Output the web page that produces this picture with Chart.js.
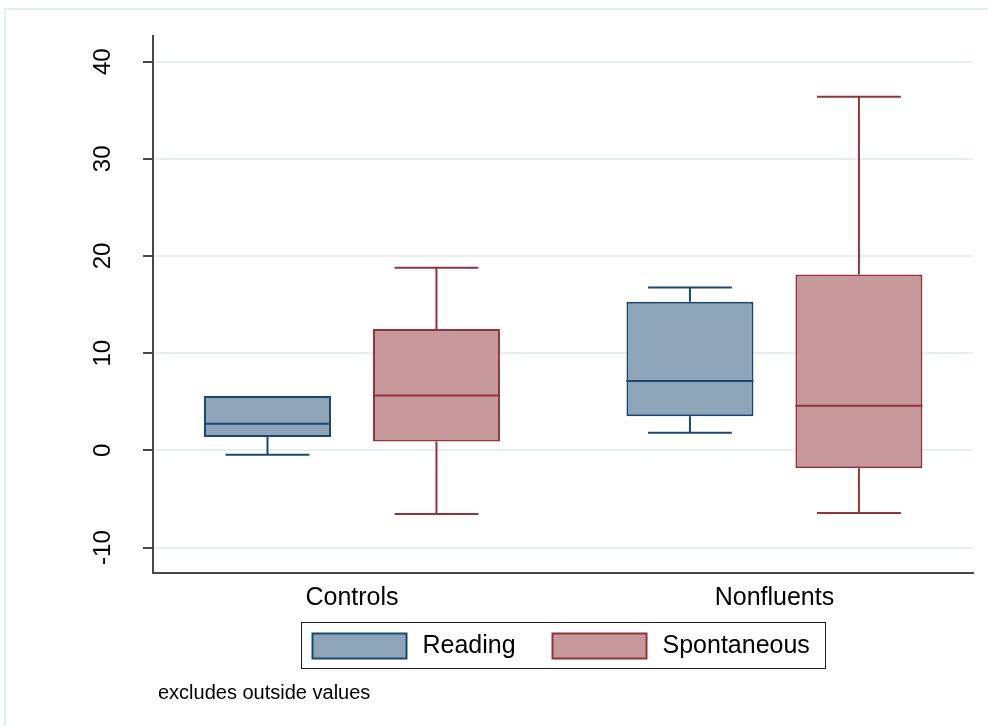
<!DOCTYPE html>
<html>
<head>
<meta charset="utf-8">
<script src="https://cdn.jsdelivr.net/npm/chart.js@4"></script>
<style>
  html, body { margin: 0; padding: 0; background: #ffffff; }
  #wrap { width: 988px; height: 726px; position: relative; }
</style>
</head>
<body>
<div id="wrap"><canvas id="c" width="988" height="726"></canvas></div>
<script>
// Groups on the horizontal axis
const categories = ['Controls', 'Nonfluents'];
const seriesNames = ['Reading', 'Spontaneous'];

// Box-plot summaries per group (lower adjacent, Q1, median, Q3, upper adjacent)
const readingLow    = [-0.45, 1.8];
const readingQ1     = [1.37, 3.5];
const readingMedian = [2.75, 7.15];
const readingQ3     = [5.6, 15.3];
const readingHigh   = [5.6, 16.75];

const spontLow    = [-6.55, -6.45];
const spontQ1     = [0.9, -1.85];
const spontMedian = [5.65, 4.6];
const spontQ3     = [12.5, 18.1];
const spontHigh   = [18.8, 36.4];

// Value-axis tick labels
const yTicks = [-10, 0, 10, 20, 30, 40];

const FONT = "'Liberation Sans', Arial, sans-serif";
const AXIS_COLOR = '#474747';
const GRID_COLOR = '#e7eff0';

const styles = [
  { fill: '#8ea4b9', line: '#1a476f' },
  { fill: '#c8999c', line: '#90353b' }
];

const summaries = [
  { low: readingLow, q1: readingQ1, med: readingMedian, q3: readingQ3, high: readingHigh },
  { low: spontLow,   q1: spontQ1,   med: spontMedian,   q3: spontQ3,   high: spontHigh }
];

const datasets = summaries.map((s, d) => ({
  label: seriesNames[d],
  data: categories.map((c, i) => ({ x: i + 1, y: [s.q1[i], s.q3[i]] })),
  backgroundColor: styles[d].fill,
  borderColor: styles[d].line,
  borderWidth: 2,
  borderSkipped: false,
  categoryPercentage: 0.8,
  barPercentage: 0.7515
}));

// Medians and whiskers, placed from each bar element and the value scale
const boxExtras = {
  id: 'boxExtras',
  afterDatasetsDraw(chart) {
    const ctx = chart.ctx;
    const yScale = chart.scales.y;
    chart.data.datasets.forEach((ds, d) => {
      const meta = chart.getDatasetMeta(d);
      const s = summaries[d];
      meta.data.forEach((bar, i) => {
        const x = bar.x;
        const w = bar.width;
        const capHalf = w * 0.33;
        const yMed = yScale.getPixelForValue(s.med[i]);
        const yQ1 = yScale.getPixelForValue(s.q1[i]);
        const yQ3 = yScale.getPixelForValue(s.q3[i]);
        const yLow = yScale.getPixelForValue(s.low[i]);
        const yHigh = yScale.getPixelForValue(s.high[i]);
        ctx.save();
        ctx.strokeStyle = styles[d].line;
        ctx.lineWidth = 2;
        ctx.lineCap = 'butt';
        ctx.beginPath();
        // median
        ctx.moveTo(x - w / 2, yMed); ctx.lineTo(x + w / 2, yMed);
        // upper whisker
        if (s.high[i] > s.q3[i]) {
          ctx.moveTo(x, yQ3); ctx.lineTo(x, yHigh);
          ctx.moveTo(x - capHalf, yHigh); ctx.lineTo(x + capHalf, yHigh);
        }
        // lower whisker
        if (s.low[i] < s.q1[i]) {
          ctx.moveTo(x, yQ1); ctx.lineTo(x, yLow);
          ctx.moveTo(x - capHalf, yLow); ctx.lineTo(x + capHalf, yLow);
        }
        ctx.stroke();
        ctx.restore();
      });
    });
  }
};

// Outer frame, boxed legend and the footnote
const decorations = {
  id: 'decorations',
  beforeDraw(chart) {
    const ctx = chart.ctx;
    ctx.save();
    ctx.fillStyle = '#ffffff';
    ctx.fillRect(0, 0, chart.width, chart.height);
    ctx.strokeStyle = '#e5eef0';
    ctx.lineWidth = 2;
    ctx.beginPath();
    ctx.moveTo(5, chart.height);
    ctx.lineTo(5, 9);
    ctx.lineTo(chart.width, 9);
    ctx.stroke();
    ctx.restore();
  },
  afterDraw(chart) {
    const ctx = chart.ctx;
    const area = chart.chartArea;
    const cx = (area.left + area.right) / 2;
    const boxW = 524, boxH = 46;
    const left = Math.round(cx - boxW / 2) + 0.5;
    const top = 622.5;
    ctx.save();
    ctx.strokeStyle = '#1e1e1e';
    ctx.lineWidth = 1;
    ctx.strokeRect(left, top, boxW, boxH);

    const swatchX = [left + 11, left + 251];
    ctx.font = '25px ' + FONT;
    ctx.textBaseline = 'middle';
    ctx.textAlign = 'left';
    chart.data.datasets.forEach((ds, d) => {
      const sx = swatchX[d];
      ctx.fillStyle = ds.backgroundColor;
      ctx.fillRect(sx, top + 11, 94, 25);
      ctx.strokeStyle = ds.borderColor;
      ctx.lineWidth = 2;
      ctx.strokeRect(sx, top + 11, 94, 25);
      ctx.fillStyle = '#000000';
      ctx.fillText(ds.label, sx + 110, top + 24);
    });

    ctx.font = '20px ' + FONT;
    ctx.fillStyle = '#000000';
    ctx.textBaseline = 'middle';
    ctx.fillText('excludes outside values', 158, 693);
    ctx.restore();
  }
};

new Chart(document.getElementById('c'), {
  type: 'bar',
  data: { datasets },
  options: {
    responsive: false,
    animation: false,
    layout: { padding: { left: 73, right: 15, top: 35, bottom: 103 } },
    plugins: {
      legend: { display: false },
      tooltip: { enabled: false },
      title: { display: false }
    },
    scales: {
      x: {
        type: 'linear',
        min: 0.529,
        max: 2.47,
        offset: false,
        afterBuildTicks: (scale) => { scale.ticks = categories.map((c, i) => ({ value: i + 1 })); },
        afterFit: (scale) => { scale.height = 50; },
        ticks: {
          padding: 10,
          color: '#000000',
          font: { family: FONT, size: 25 },
          callback: (v) => categories[Math.round(v) - 1]
        },
        grid: { display: false, drawTicks: false, offset: false },
        border: { display: true, color: AXIS_COLOR, width: 2 }
      },
      y: {
        type: 'linear',
        min: -12.62,
        max: 42.6,
        afterBuildTicks: (scale) => { scale.ticks = yTicks.map(v => ({ value: v })); },
        afterFit: (scale) => { scale.width = 80; },
        ticks: {
          minRotation: 90,
          maxRotation: 90,
          crossAlign: 'center',
          padding: 22,
          color: '#000000',
          font: { family: FONT, size: 24 }
        },
        grid: {
          color: GRID_COLOR,
          lineWidth: 2,
          drawTicks: true,
          tickLength: 10,
          tickColor: AXIS_COLOR,
          tickWidth: 2
        },
        border: { display: true, color: AXIS_COLOR, width: 2 }
      }
    }
  },
  plugins: [boxExtras, decorations]
});
</script>
</body>
</html>
